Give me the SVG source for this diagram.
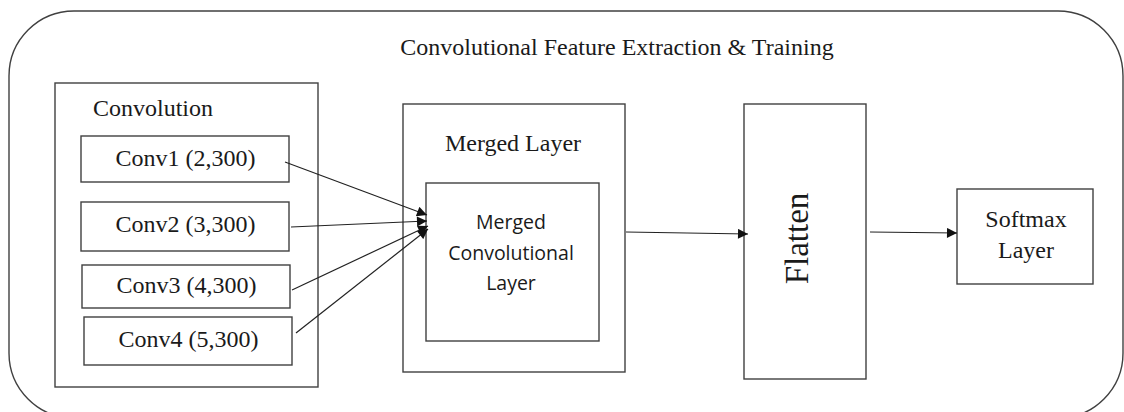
<svg xmlns="http://www.w3.org/2000/svg" width="1124" height="412" viewBox="0 0 1124 412">
<style>
.box{fill:#fff;stroke:#404040;stroke-width:1.4}
.serif{font-family:"Liberation Serif","Times New Roman",serif;fill:#1a1a1a}
.sans{font-family:"Open Sans","Noto Sans","Liberation Sans",sans-serif;fill:#1a1a1a}
.edge{stroke:#222;stroke-width:1.2;fill:none;marker-end:url(#ah)}
</style>
<defs>
<marker id="ah" viewBox="0 0 10 10" refX="10" refY="5" markerWidth="11" markerHeight="10" markerUnits="userSpaceOnUse" orient="auto">
<path d="M0,0 L10,5 L0,10 z" fill="#111"/>
</marker>
</defs>
<rect width="1124" height="412" fill="#fff"/>
<g id="outer">
<rect class="box" x="9" y="11" width="1114" height="407" rx="65" ry="65"/>
<text class="serif" x="617" y="55" font-size="24" text-anchor="middle">Convolutional Feature Extraction &amp; Training</text>
</g>
<g id="convolution">
<rect class="box" x="55" y="83" width="263" height="304"/>
<text class="serif" x="93" y="116" font-size="24">Convolution</text>
</g>
<g id="conv1">
<rect class="box" x="81" y="136" width="208" height="46"/>
<text class="serif" x="185.5" y="166" font-size="24" text-anchor="middle">Conv1 (2,300)</text>
</g>
<g id="conv2">
<rect class="box" x="81" y="202" width="208" height="49"/>
<text class="serif" x="185.5" y="232" font-size="24" text-anchor="middle">Conv2 (3,300)</text>
</g>
<g id="conv3">
<rect class="box" x="82" y="265" width="208" height="43"/>
<text class="serif" x="186.5" y="293" font-size="24" text-anchor="middle">Conv3 (4,300)</text>
</g>
<g id="conv4">
<rect class="box" x="84" y="317" width="208" height="48"/>
<text class="serif" x="188.5" y="347" font-size="24" text-anchor="middle">Conv4 (5,300)</text>
</g>
<g id="merged-layer">
<rect class="box" x="403" y="104" width="222" height="268"/>
<text class="serif" x="513" y="151" font-size="24" text-anchor="middle">Merged Layer</text>
</g>
<g id="merged-conv">
<rect class="box" x="426" y="183" width="173" height="158"/>
<text class="sans" x="511" y="229" font-size="19.5" text-anchor="middle">Merged</text>
<text class="sans" x="511" y="260" font-size="19.5" text-anchor="middle">Convolutional</text>
<text class="sans" x="511" y="290" font-size="19.5" text-anchor="middle">Layer</text>
</g>
<g id="flatten">
<rect class="box" x="744" y="104" width="122" height="275"/>
<text class="serif" transform="translate(808,238.5) rotate(-90)" font-size="33" text-anchor="middle">Flatten</text>
</g>
<g id="softmax">
<rect class="box" x="957" y="189" width="136" height="95"/>
<text class="serif" x="1026" y="227" font-size="24" text-anchor="middle">Softmax</text>
<text class="serif" x="1026" y="258" font-size="24" text-anchor="middle">Layer</text>
</g>
<g id="connectors">
<line class="edge" x1="285" y1="162" x2="427" y2="215"/>
<line class="edge" x1="291" y1="227" x2="427" y2="221"/>
<line class="edge" x1="292" y1="290" x2="428" y2="226"/>
<line class="edge" x1="296" y1="333" x2="428" y2="229"/>
<line class="edge" x1="626" y1="232" x2="748" y2="234"/>
<line class="edge" x1="870" y1="232" x2="957" y2="233"/>
</g>
</svg>
